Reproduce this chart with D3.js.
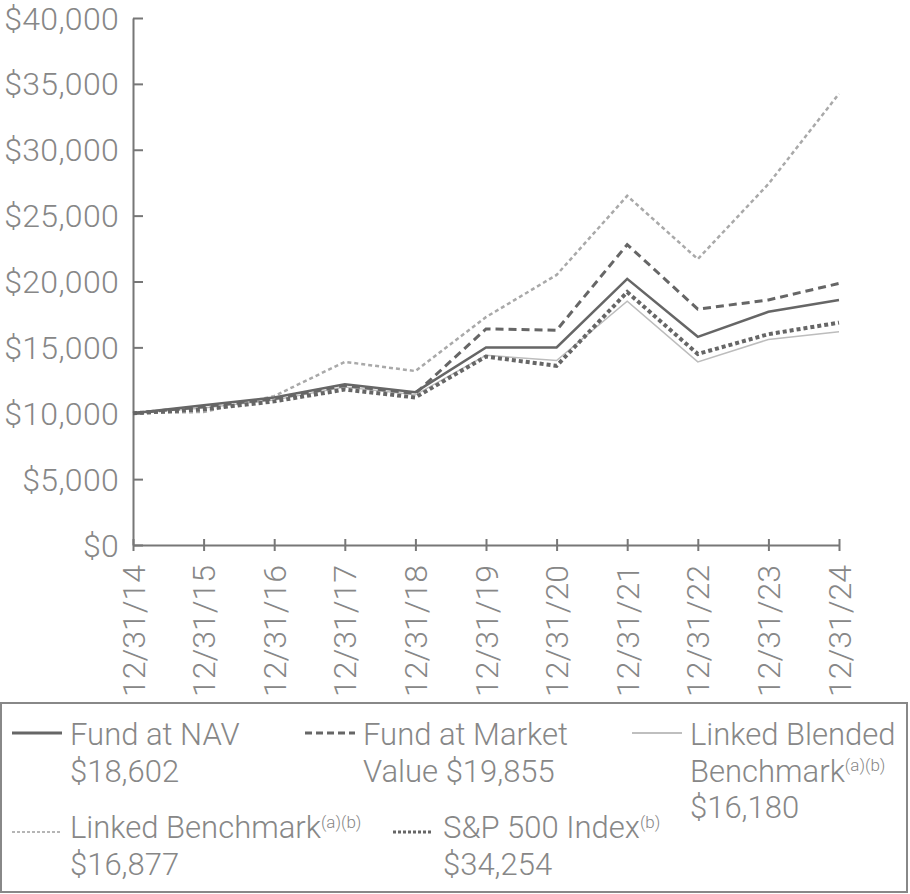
<!DOCTYPE html>
<html>
<head>
<style>
  body { margin: 0; padding: 0; background: #fff; }
  svg text { font-family: Roboto, "Liberation Sans", sans-serif; font-weight: 300; fill: #878787; }
</style>
<script src="https://d3js.org/d3.v7.min.js"></script>
</head>
<body>
<svg id="chart" width="910" height="894"></svg>
<script>
// data
var dates = ["12/31/14", "12/31/15", "12/31/16", "12/31/17", "12/31/18", "12/31/19",
             "12/31/20", "12/31/21", "12/31/22", "12/31/23", "12/31/24"];
var fundNav = [10000, 10600, 11200, 12200, 11600, 15000, 15000, 20200, 15800, 17700, 18602];
var fundMarket = [10000, 10500, 11100, 12100, 11500, 16400, 16300, 22800, 17900, 18600, 19855];
var blended = [10000, 10400, 11000, 12000, 11400, 14400, 14000, 18500, 13900, 15600, 16180];
var lightDotted = [10000, 10100, 11300, 13900, 13200, 17300, 20500, 26500, 21700, 27400, 34254];
var darkDotted = [10000, 10300, 10900, 11800, 11200, 14300, 13600, 19200, 14500, 16000, 16877];
var yTicks = [0, 5000, 10000, 15000, 20000, 25000, 30000, 35000, 40000];

var svg = d3.select("#chart");
var plotLeft = 133, plotRight = 839, plotTop = 18, plotBottom = 545;

var x = d3.scalePoint().domain(dates).range([plotLeft, plotRight]);
var y = d3.scaleLinear().domain([0, 40000]).range([plotBottom, plotTop]);

var axisColor = "#777";

// y axis, ticks point inward
var yAxis = svg.append("g")
  .attr("transform", "translate(" + plotLeft + ",0)")
  .call(d3.axisRight(y).tickValues(yTicks).tickSize(10).tickSizeOuter(0).tickFormat(""));
yAxis.select(".domain").attr("stroke", axisColor).attr("stroke-width", 2);
yAxis.selectAll(".tick line").attr("stroke", axisColor).attr("stroke-width", 2);

svg.append("g").selectAll("text")
  .data(yTicks)
  .enter().append("text")
  .attr("x", 119)
  .attr("y", function(d) { return y(d); })
  .attr("dy", "0.36em")
  .attr("text-anchor", "end")
  .attr("font-size", 32)
  .attr("letter-spacing", 0.3)
  .text(function(d) { return "$" + d3.format(",")(d); });

// x axis, ticks cross the line
var xAxis = svg.append("g")
  .attr("transform", "translate(0," + plotBottom + ")")
  .call(d3.axisBottom(x).tickSize(6).tickSizeOuter(0).tickFormat(""));
xAxis.select(".domain").attr("stroke", axisColor).attr("stroke-width", 2);
xAxis.selectAll(".tick line").attr("stroke", axisColor).attr("stroke-width", 2).attr("y1", -6);

svg.append("g").selectAll("text")
  .data(dates)
  .enter().append("text")
  .attr("transform", function(d) { return "translate(" + x(d) + "," + (plotBottom + 20) + ") rotate(-90)"; })
  .attr("dy", "0.36em")
  .attr("text-anchor", "end")
  .attr("font-size", 32)
  .text(function(d) { return d; });

// lines
var line = d3.line()
  .x(function(d, i) { return x(dates[i]); })
  .y(function(d) { return y(d); });

var series = [
  { values: blended, color: "#bdbdbd", width: 1.5, dash: null },
  { values: lightDotted, color: "#a9a9a9", width: 2.5, dash: "4,3" },
  { values: darkDotted, color: "#666", width: 4, dash: "4,3" },
  { values: fundMarket, color: "#666", width: 3, dash: "8,5" },
  { values: fundNav, color: "#666", width: 2.5, dash: null }
];

svg.append("g").selectAll("path")
  .data(series)
  .enter().append("path")
  .attr("d", function(d) { return line(d.values); })
  .attr("fill", "none")
  .attr("stroke", function(d) { return d.color; })
  .attr("stroke-width", function(d) { return d.width; })
  .attr("stroke-dasharray", function(d) { return d.dash; });

// legend
svg.append("rect")
  .attr("x", 1).attr("y", 703).attr("width", 906).attr("height", 189)
  .attr("fill", "none").attr("stroke", "#888").attr("stroke-width", 2);

var legendItems = [
  { x1: 12, x2: 62, sy: 733, tx: 70, ty: 734, color: "#666", width: 3, dash: null,
    lines: [["Fund at NAV"], ["$18,602"]] },
  { x1: 305, x2: 355, sy: 733, tx: 363, ty: 734, color: "#666", width: 3, dash: "7,4",
    lines: [["Fund at Market"], ["Value $19,855"]] },
  { x1: 632, x2: 682, sy: 733, tx: 690, ty: 734, color: "#aaa", width: 1.5, dash: null,
    lines: [["Linked Blended"], ["Benchmark", "(a)(b)"], ["$16,180"]] },
  { x1: 12, x2: 62, sy: 832, tx: 70, ty: 827, color: "#b5b5b5", width: 2, dash: "3,2",
    lines: [["Linked Benchmark", "(a)(b)"], ["$16,877"]] },
  { x1: 393, x2: 433, sy: 832, tx: 443, ty: 827, color: "#666", width: 3, dash: "3,2",
    lines: [["S&P 500 Index", "(b)"], ["$34,254"]] }
];

var lg = svg.append("g").selectAll("g")
  .data(legendItems)
  .enter().append("g");

lg.append("line")
  .attr("x1", function(d) { return d.x1; })
  .attr("x2", function(d) { return d.x2; })
  .attr("y1", function(d) { return d.sy; })
  .attr("y2", function(d) { return d.sy; })
  .attr("stroke", function(d) { return d.color; })
  .attr("stroke-width", function(d) { return d.width; })
  .attr("stroke-dasharray", function(d) { return d.dash; });

lg.each(function(d) {
  var g = d3.select(this);
  d.lines.forEach(function(parts, i) {
    var t = g.append("text")
      .attr("x", d.tx)
      .attr("y", d.ty + i * 36.5)
      .attr("dy", "0.36em")
      .attr("font-size", 31);
    t.append("tspan").text(parts[0]);
    if (parts[1]) {
      t.append("tspan").attr("font-size", 17).attr("dy", "-0.6em").text(parts[1]);
    }
  });
});
</script>
</body>
</html>
